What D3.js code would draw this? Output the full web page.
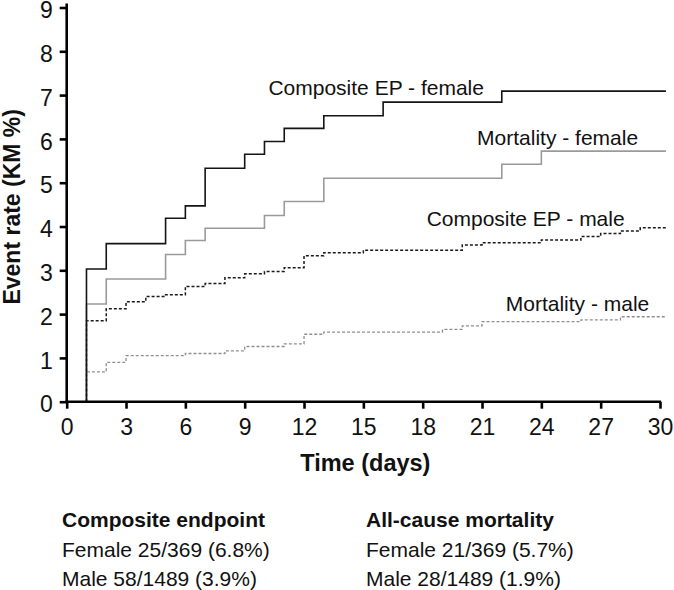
<!DOCTYPE html>
<html>
<head>
<meta charset="utf-8">
<script src="https://cdn.jsdelivr.net/npm/d3@7"></script>
<style>
  html, body { margin: 0; padding: 0; background: #fff; }
  svg { display: block; font-family: "Liberation Sans", Arial, Helvetica, sans-serif; }
</style>
</head>
<body>
<svg id="chart" width="674" height="590"></svg>
<script>
// ---- Data ----
const compFemaleDays = [0, 1, 2, 5, 6, 7, 9, 10, 11, 13, 16, 22, 30.3];
const compFemaleVals = [0, 3.03, 3.61, 4.19, 4.47, 5.33, 5.65, 5.94, 6.24, 6.53, 6.84, 7.09, 7.09];

const mortFemaleDays = [0, 1, 2, 5, 6, 7, 10, 11, 13, 22, 24, 30.3];
const mortFemaleVals = [0, 2.23, 2.80, 3.36, 3.68, 3.96, 4.25, 4.57, 5.10, 5.42, 5.72, 5.72];

const compMaleDays = [0, 1, 2, 3, 4, 5, 6, 7, 8, 9, 10, 11, 12, 13, 15, 20, 21, 24, 26, 27, 28, 29, 30.3];
const compMaleVals = [0, 1.85, 2.12, 2.28, 2.40, 2.44, 2.63, 2.70, 2.83, 2.92, 2.97, 3.06, 3.33, 3.40, 3.46, 3.58, 3.63, 3.69, 3.77, 3.84, 3.90, 3.97, 3.97];

const mortMaleDays = [0, 1, 2, 3, 6, 8, 9, 11, 12, 13, 19, 20, 21, 26, 28, 30.3];
const mortMaleVals = [0, 0.68, 0.90, 1.05, 1.10, 1.16, 1.26, 1.32, 1.54, 1.59, 1.65, 1.73, 1.83, 1.87, 1.94, 1.94];

const seriesNames = ["Composite EP - female", "Mortality - female", "Composite EP - male", "Mortality - male"];
const labelDays = [10.2, 20.75, 18.2, 22.2];
const labelVals = [7.0, 5.86, 4.01, 2.06];

const xTicks = [0, 3, 6, 9, 12, 15, 18, 21, 24, 27, 30];
const yTicks = [0, 1, 2, 3, 4, 5, 6, 7, 8, 9];

const xTitle = "Time (days)";
const yTitle = "Event rate (KM %)";

const summaryHeaders = ["Composite endpoint", "All-cause mortality"];
const summaryFemale = ["Female 25/369 (6.8%)", "Female 21/369 (5.7%)"];
const summaryMale = ["Male 58/1489 (3.9%)", "Male 28/1489 (1.9%)"];

// ---- Drawing ----
const svg = d3.select("#chart");
const x = d3.scaleLinear().domain([0, 30]).range([66.7, 660]);
const y = d3.scaleLinear().domain([0, 9]).range([401.7, 7.5]);

const styles = [
  { stroke: "#141414", dash: null, width: 1.6 },
  { stroke: "#9a9a9a", dash: null, width: 1.6 },
  { stroke: "#1a1a1a", dash: "3,2", width: 1.5 },
  { stroke: "#8e8e8e", dash: "3,2", width: 1.3 }
];
const series = [
  [compFemaleDays, compFemaleVals],
  [mortFemaleDays, mortFemaleVals],
  [compMaleDays, compMaleVals],
  [mortMaleDays, mortMaleVals]
];

const line = d3.line().x(d => x(d[0])).y(d => y(d[1])).curve(d3.curveStepAfter);

[3, 2, 1, 0].forEach(i => {
  const pts = series[i][0].map((d, j) => [d, series[i][1][j]]);
  svg.append("path")
    .datum(pts)
    .attr("fill", "none")
    .attr("stroke", styles[i].stroke)
    .attr("stroke-width", styles[i].width)
    .attr("stroke-dasharray", styles[i].dash)
    .attr("d", line);
});

// axes
const xAxis = svg.append("g")
  .attr("transform", `translate(0,${y(0)})`)
  .call(d3.axisBottom(x).tickValues(xTicks).tickSize(7).tickSizeOuter(0));
const yAxis = svg.append("g")
  .attr("transform", `translate(${x(0)},0)`)
  .call(d3.axisLeft(y).tickValues(yTicks).tickSize(7).tickSizeOuter(0));

[xAxis, yAxis].forEach(g => {
  g.attr("font-size", null).attr("font-family", null);
  g.select(".domain").attr("stroke", "#000").attr("stroke-width", 2.6);
  g.selectAll(".tick line").attr("stroke", "#000").attr("stroke-width", 2.6);
  g.selectAll(".tick text")
    .style("font-family", "'Liberation Sans', Arial, sans-serif")
    .style("font-size", "23px").attr("fill", "#111");
});
xAxis.select(".domain").attr("d", `M${x(0) - 1.3},0H${x(30) + 1}`);
yAxis.select(".domain").attr("d", `M0,${y(0) + 1.3}V${y(9) - 4}`);
xAxis.selectAll(".tick text").attr("dy", "0.71em").attr("y", 16.5);
yAxis.selectAll(".tick text").attr("x", -14).attr("dy", "0.36em").attr("transform", "translate(0,2)");

// series labels
seriesNames.forEach((name, i) => {
  svg.append("text")
    .attr("x", x(labelDays[i]))
    .attr("y", y(labelVals[i]))
    .attr("font-size", 21)
    .attr("fill", "#111")
    .text(name);
});

// axis titles
svg.append("text")
  .attr("x", (x(0) + x(30)) / 2 + 2)
  .attr("y", 471)
  .attr("text-anchor", "middle")
  .attr("font-size", 23.5)
  .attr("font-weight", "bold")
  .attr("fill", "#111")
  .text(xTitle);

svg.append("text")
  .attr("transform", `translate(19.5,${y(4.45)}) rotate(-90)`)
  .attr("text-anchor", "middle")
  .attr("font-size", 23)
  .attr("font-weight", "bold")
  .attr("fill", "#111")
  .text(yTitle);

// summary text
const colX = [62, 366];
summaryHeaders.forEach((h, i) => {
  svg.append("text").attr("x", colX[i]).attr("y", 527)
    .attr("font-size", 21).attr("font-weight", "bold").attr("fill", "#111").text(h);
  svg.append("text").attr("x", colX[i]).attr("y", 557)
    .attr("font-size", 21).attr("fill", "#111").text(summaryFemale[i]);
  svg.append("text").attr("x", colX[i]).attr("y", 586)
    .attr("font-size", 21).attr("fill", "#111").text(summaryMale[i]);
});
</script>
</body>
</html>
